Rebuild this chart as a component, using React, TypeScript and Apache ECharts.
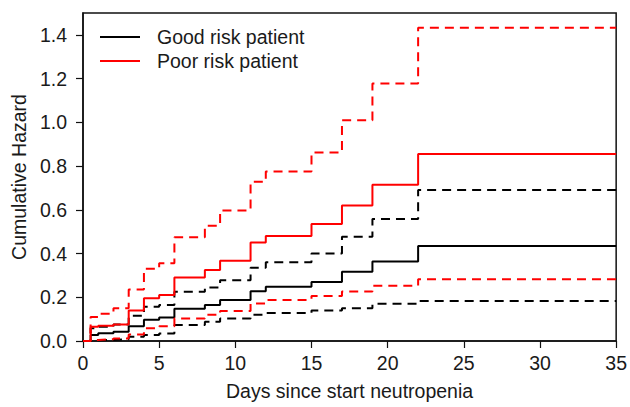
import React, { useEffect, useRef } from "react";
import * as echarts from "echarts";

// Event times (days)
const times = [0, 0.5, 1, 2, 3, 4, 5, 6, 8, 9, 11, 12, 15, 17, 19, 22];
const endTime = 35;

// Poor risk patient
const poorEst = [0, 0.065, 0.07, 0.075, 0.14, 0.195, 0.21, 0.29, 0.325, 0.367, 0.45, 0.48, 0.535, 0.62, 0.715, 0.855];
const poorUpper = [0, 0.11, 0.125, 0.15, 0.235, 0.33, 0.355, 0.475, 0.527, 0.597, 0.728, 0.775, 0.862, 1.01, 1.178, 1.432];
const poorLower = [0, 0.005, 0.008, 0.012, 0.03, 0.058, 0.068, 0.103, 0.12, 0.137, 0.172, 0.188, 0.206, 0.226, 0.253, 0.282];

// Good risk patient
const goodEst = [0, 0.028, 0.035, 0.042, 0.068, 0.097, 0.108, 0.147, 0.165, 0.187, 0.228, 0.248, 0.27, 0.317, 0.363, 0.435];
const goodUpper = [0, 0.058, 0.065, 0.075, 0.115, 0.157, 0.165, 0.225, 0.245, 0.278, 0.335, 0.36, 0.4, 0.477, 0.558, 0.69];
const goodLower = [0, 0.003, 0.005, 0.008, 0.02, 0.027, 0.034, 0.073, 0.088, 0.103, 0.12, 0.128, 0.139, 0.15, 0.17, 0.183];

const legendLabels = ["Good risk patient", "Poor risk patient"];
const xTicksInterval = 5;
const yTicksInterval = 0.2;

const FONT = "Liberation Sans, Arial, sans-serif";
const TEXT = "#1a1a1a";

function toSteps(vals: number[]): [number, number][] {
  const pts: [number, number][] = times.map((t, i) => [t, vals[i]]);
  pts.push([endTime, vals[vals.length - 1]]);
  return pts;
}

function stepSeries(name: string, vals: number[], color: string, dashed: boolean) {
  return {
    name,
    type: "line",
    step: "end",
    data: toSteps(vals),
    showSymbol: false,
    symbol: "none",
    silent: true,
    lineStyle: {
      color,
      width: 2,
      type: dashed ? [9, 6] : "solid",
    },
  };
}

export default function App() {
  const ref = useRef<HTMLDivElement>(null);
  useEffect(() => {
    if (!ref.current) return;
    const chart = echarts.init(ref.current, undefined, { renderer: "svg" });
    chart.setOption({
      animation: false,
      backgroundColor: "#ffffff",
      grid: {
        left: 83,
        right: 13,
        top: 13,
        bottom: 66,
        show: true,
        borderColor: "#111",
        borderWidth: 1.5,
        backgroundColor: "transparent",
      },
      xAxis: {
        type: "value",
        min: 0,
        max: 35,
        interval: xTicksInterval,
        name: "Days since start neutropenia",
        nameLocation: "middle",
        nameGap: 40,
        nameTextStyle: { fontFamily: FONT, fontSize: 19.5, color: TEXT },
        axisLine: { show: true, onZero: false, lineStyle: { color: "#111", width: 1.5 } },
        axisTick: { show: true, inside: false, length: 7, lineStyle: { color: "#111", width: 1.2 } },
        axisLabel: { fontFamily: FONT, fontSize: 19.5, color: TEXT, margin: 12 },
        splitLine: { show: false },
      },
      yAxis: {
        type: "value",
        min: 0,
        max: 1.5,
        interval: yTicksInterval,
        name: "Cumulative Hazard",
        nameLocation: "middle",
        nameGap: 53,
        nameTextStyle: { fontFamily: FONT, fontSize: 19.5, color: TEXT },
        axisLine: { show: true, onZero: false, lineStyle: { color: "#111", width: 1.5 } },
        axisTick: { show: true, inside: false, length: 7, lineStyle: { color: "#111", width: 1.2 } },
        axisLabel: {
          fontFamily: FONT,
          fontSize: 19.5,
          color: TEXT,
          margin: 16,
          showMaxLabel: false,
          formatter: (v: number) => (v > 1.45 ? "" : v.toFixed(1)),
        },
        splitLine: { show: false },
      },
      graphic: [
        { type: "line", shape: { x1: 100, y1: 37, x2: 140, y2: 37 }, style: { stroke: "#000", lineWidth: 2 } },
        { type: "line", shape: { x1: 100, y1: 61, x2: 140, y2: 61 }, style: { stroke: "#ff0000", lineWidth: 2 } },
        {
          type: "text",
          x: 157,
          y: 37,
          style: { text: legendLabels[0], fontFamily: FONT, fontSize: 19.5, fill: TEXT, verticalAlign: "middle", align: "left" },
        },
        {
          type: "text",
          x: 157,
          y: 61,
          style: { text: legendLabels[1], fontFamily: FONT, fontSize: 19.5, fill: TEXT, verticalAlign: "middle", align: "left" },
        },
      ],
      series: [
        stepSeries("Good lower", goodLower, "#000000", true),
        stepSeries("Good upper", goodUpper, "#000000", true),
        stepSeries("Good risk patient", goodEst, "#000000", false),
        stepSeries("Poor lower", poorLower, "#ff0000", true),
        stepSeries("Poor upper", poorUpper, "#ff0000", true),
        stepSeries("Poor risk patient", poorEst, "#ff0000", false),
      ],
    });
    return () => chart.dispose();
  }, []);
  return (
    <div
      ref={ref}
      style={{ position: "fixed", left: 0, top: 0, width: 630, height: 407, background: "#fff" }}
    />
  );
}
